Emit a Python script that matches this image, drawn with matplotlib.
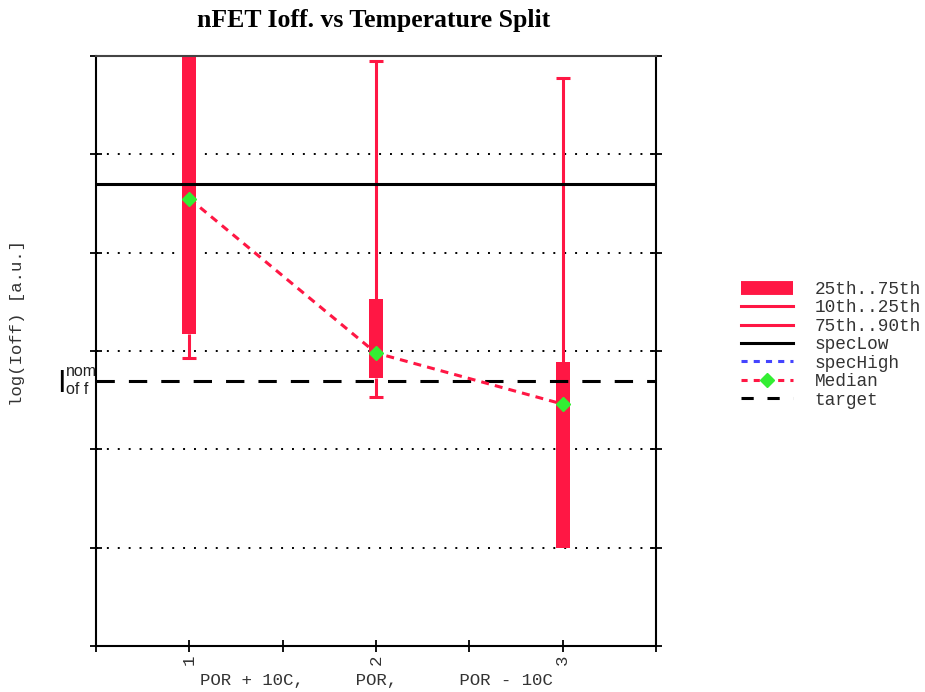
import matplotlib
matplotlib.use("Agg")
import matplotlib.pyplot as plt
from matplotlib.lines import Line2D
import numpy as np

# ---- data ----
positions = [1, 2, 3]
tick_labels = ["1", "2", "3"]
q25 = [3.17, 2.73, 1.00]
q75 = [6.40, 3.53, 2.89]
p10 = [2.93, 2.53, 1.00]
p90 = [6.90, 5.95, 5.78]
median = [4.55, 2.98, 2.46]
spec_low = 4.70
spec_high = 7.50
target = 2.70
xlabel = "POR + 10C,     POR,      POR - 10C"

RED = "#ff1744"
GREEN = "#33ee33"
MONO = "Liberation Mono"

fig = plt.figure(figsize=(9.25, 6.92), dpi=100)
ax = fig.add_axes([96/925, 1-646/692, (656-96)/925, (646-56)/692])
ax.set_xlim(0.5, 3.5)
ax.set_ylim(0, 6)

# grid
for yv in [1, 2, 3, 4, 5]:
    ax.axhline(yv, color="black", lw=1.4, linestyle=(0, (1, 4.6)), zorder=0)

w = 0.075
q25a, q75a = np.array(q25), np.array(q75)
ax.bar(positions, q75a - q25a, bottom=q25a, width=w, color=RED, zorder=2, linewidth=0)
for x, lo, b, t, hi in zip(positions, p10, q25, q75, p90):
    ax.vlines(x, lo, b, color=RED, lw=2.2, zorder=2)
    ax.vlines(x, t, hi, color=RED, lw=2.2, zorder=2)
    if lo < b:
        ax.hlines(lo, x - w/2, x + w/2, color=RED, lw=2.2, zorder=2)
    ax.hlines(hi, x - w/2, x + w/2, color=RED, lw=2.2, zorder=2)

ax.axhline(spec_low, color="black", lw=2.2, zorder=3)
ax.axhline(spec_high, color="#4444ff", lw=2.2, dashes=(2, 2), zorder=3)
ax.axhline(target, color="black", lw=2.2, dashes=(6, 4.6), zorder=3)
ax.plot(positions, median, color=RED, lw=2.2, dashes=(2.6, 2), zorder=4)
ax.plot(positions, median, linestyle="none", marker="D", color=GREEN, ms=7, zorder=5)

for s in ax.spines.values():
    s.set_linewidth(1.5)
ax.spines["top"].set_color("#444444")

ax.set_xticks([0.5, 1, 1.5, 2, 2.5, 3, 3.5])
ax.set_xticklabels(["", "1", "", "2", "", "3", ""], rotation=90, family=MONO,
                   fontsize=12.5, color="#333333")
ax.set_yticks([0, 1, 2, 3, 4, 5, 6])
ax.set_yticklabels([])
ax.tick_params(axis="both", direction="inout", length=8, width=1.3)
ax.tick_params(axis="y", right=True)
ax.tick_params(axis="x", pad=2)

fig.text(376/925, 1-680/692, xlabel, family=MONO, fontsize=12.5, color="#333333",
         ha="center", va="center")
fig.text(18/925, 1-323/692, "log(Ioff) [a.u.]", family=MONO, fontsize=12.5,
         color="#333333", rotation=90, ha="center", va="center")
fig.text(374/925, 1-20/692, "nFET Ioff. vs Temperature Split", family="Liberation Serif",
         fontweight="bold", fontsize=18.5, ha="center", va="center")

# target label
fig.text(57/925, 1-384/692, "I", family="Liberation Sans", fontsize=22, ha="left", va="center")
fig.text(66/925, 1-372/692, "nom", family="Liberation Sans", fontsize=11.5, ha="left", va="center", color="#222222")
fig.text(66/925, 1-390/692, "of f", family="Liberation Sans", fontsize=11.5, ha="left", va="center", color="#222222")

handles = [
    Line2D([], [], color=RED, lw=10, solid_capstyle="butt"),
    Line2D([], [], color=RED, lw=2.2),
    Line2D([], [], color=RED, lw=2.2),
    Line2D([], [], color="black", lw=2.2),
    Line2D([], [], color="#4444ff", lw=2.2, dashes=(2, 2)),
    Line2D([], [], color=RED, lw=2.2, dashes=(2, 2), marker="D", mfc=GREEN, mec=GREEN, ms=7),
    Line2D([], [], color="black", lw=2.2, dashes=(4, 4.5)),
]
labels = ["25th..75th", "10th..25th", "75th..90th", "specLow", "specHigh", "Median", "target"]
leg = fig.legend(handles, labels, loc="upper left", bbox_to_anchor=(741/925, 1-281/692),
                 frameon=False, prop={"family": MONO, "size": 12.8}, handlelength=2.9,
                 handletextpad=1.25, labelspacing=0.08, borderpad=0, borderaxespad=0)
for t in leg.get_texts():
    t.set_color("#333333")

fig.savefig("out.png", dpi=100)
